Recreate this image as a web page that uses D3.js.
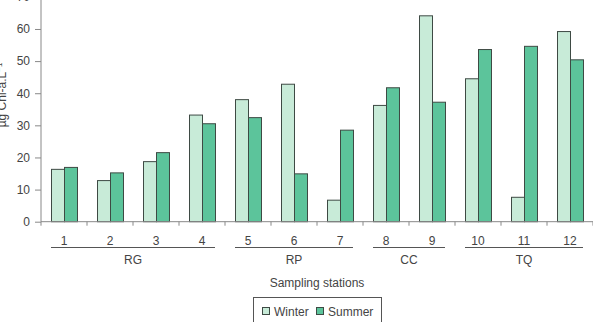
<!DOCTYPE html>
<html>
<head>
<meta charset="utf-8">
<script src="https://cdn.jsdelivr.net/npm/d3@7"></script>
<style>
  html, body { margin: 0; padding: 0; background: #fff; }
  svg { display: block; }
  text { font-family: "Liberation Sans", Arial, sans-serif; fill: #444; }
</style>
</head>
<body>
<svg id="chart" width="593" height="322"></svg>
<script>
const stations = ["1","2","3","4","5","6","7","8","9","10","11","12"];
const winter = [16.3, 12.8, 18.7, 33.2, 38.0, 42.8, 6.7, 36.2, 64.1, 44.5, 7.6, 59.2];
const summer = [16.9, 15.2, 21.5, 30.5, 32.4, 14.9, 28.5, 41.7, 37.2, 53.6, 54.6, 50.4];
const groups = ["RG", "RP", "CC", "TQ"];
const groupStations = [["1","4"], ["5","7"], ["8","9"], ["10","12"]];
const yTicks = [0, 10, 20, 30, 40, 50, 60, 70];
const seriesNames = ["Winter", "Summer"];
const seriesColors = ["#c8ebd8", "#5cc49b"];

const svg = d3.select("#chart");
const x0 = 41, x1 = 593, yBase = 221.7;

const x = d3.scaleBand().domain(stations).range([x0, x1]).paddingInner(0.435).paddingOuter(0.2175);
const xs = d3.scaleBand().domain([0, 1]).range([0, x.bandwidth()]);
const y = d3.scaleLinear().domain([0, 70]).range([yBase, yBase - 70 * 3.212]);

// bars
const data = [winter, summer];
data.forEach((vals, si) => {
  svg.append("g").selectAll("rect").data(vals).join("rect")
    .attr("x", (d, i) => x(stations[i]) + xs(si) + 0.5)
    .attr("y", d => y(d))
    .attr("width", xs.bandwidth())
    .attr("height", d => yBase - y(d))
    .attr("fill", seriesColors[si])
    .attr("stroke", "#3e4a44")
    .attr("stroke-width", 1);
});

// y axis
const yAxis = d3.axisLeft(y).tickValues(yTicks).tickSize(6).tickPadding(5);
const gy = svg.append("g").attr("transform", `translate(${x0},0)`).call(yAxis);
gy.select(".domain").attr("stroke", "#888").attr("d", `M-0,${yBase}V-10`);
gy.selectAll(".tick line").attr("stroke", "#888");
gy.selectAll(".tick text").attr("font-size", 12).attr("fill", "#444").attr("font-family", "Liberation Sans, Arial, sans-serif");

// x axis: ticks at band boundaries
const step = x.step();
const bounds = d3.range(stations.length + 1).map(i => x0 + i * step);
svg.append("line").attr("x1", x0).attr("x2", x1).attr("y1", yBase).attr("y2", yBase).attr("stroke", "#888");
svg.append("g").selectAll("line").data(bounds).join("line")
  .attr("x1", d => d).attr("x2", d => d).attr("y1", yBase).attr("y2", yBase + 4)
  .attr("stroke", "#888");

// station labels
svg.append("g").selectAll("text").data(stations).join("text")
  .attr("x", d => x(d) + x.bandwidth() / 2)
  .attr("y", 244.5)
  .attr("text-anchor", "middle")
  .attr("font-size", 12)
  .text(d => d);

// group lines and labels
groups.forEach((g, gi) => {
  const [a, b] = groupStations[gi];
  const xa = x(a), xb = x(b) + x.bandwidth();
  svg.append("line").attr("x1", xa).attr("x2", xb).attr("y1", 247.5).attr("y2", 247.5)
    .attr("stroke", "#555").attr("stroke-width", 1);
  svg.append("text").attr("x", (xa + xb) / 2).attr("y", 264).attr("text-anchor", "middle")
    .attr("font-size", 12).text(g);
});

// x title
svg.append("text").attr("x", 317).attr("y", 287).attr("text-anchor", "middle")
  .attr("font-size", 12).text("Sampling stations");

// y title
const yt = svg.append("text").attr("transform", "translate(6,95) rotate(-90)")
  .attr("text-anchor", "middle").attr("font-size", 12);
yt.append("tspan").text("µg Chl-a.L");
yt.append("tspan").attr("dy", -4).attr("font-size", 8).text("−1");

// legend
const lg = svg.append("g");
lg.append("rect").attr("x", 253.5).attr("y", 297.5).attr("width", 128).attr("height", 30)
  .attr("fill", "#fff").attr("stroke", "#555");
const legendX = [262, 316];
seriesNames.forEach((n, i) => {
  lg.append("rect").attr("x", legendX[i] + 0.5).attr("y", 307.5).attr("width", 7).attr("height", 7)
    .attr("fill", seriesColors[i]).attr("stroke", "#3e4a44");
  lg.append("text").attr("x", legendX[i] + 12).attr("y", 315.5).attr("font-size", 12).text(n);
});
</script>
</body>
</html>
